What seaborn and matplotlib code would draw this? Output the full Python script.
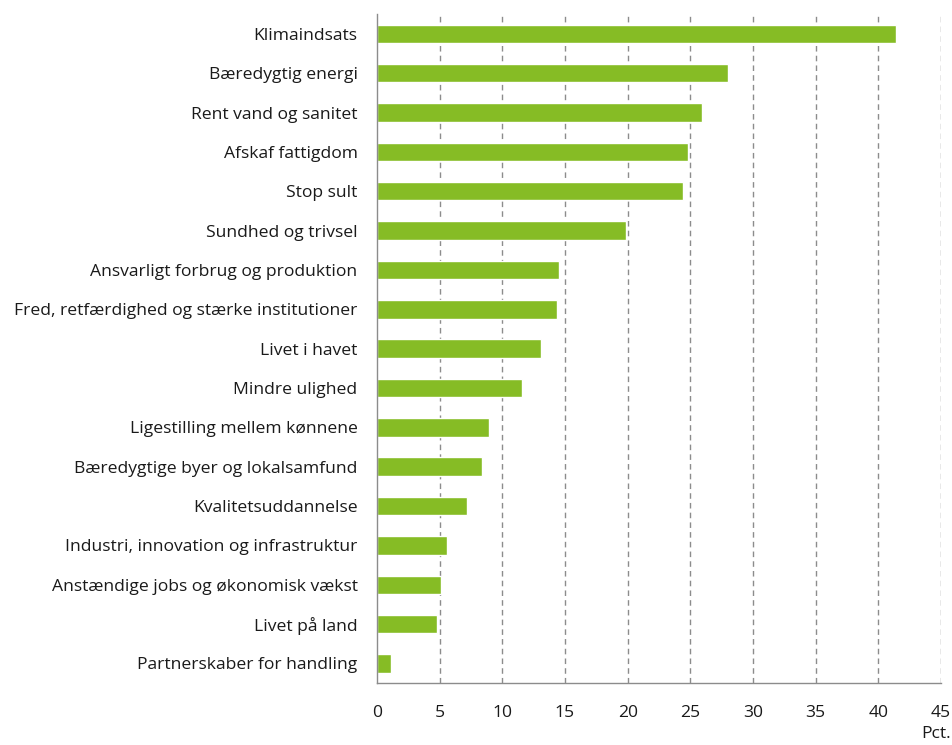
import matplotlib
matplotlib.use("Agg")
import matplotlib.pyplot as plt
import seaborn as sns
import pandas as pd
import numpy as np

goals = [
    "Klimaindsats",
    "Bæredygtig energi",
    "Rent vand og sanitet",
    "Afskaf fattigdom",
    "Stop sult",
    "Sundhed og trivsel",
    "Ansvarligt forbrug og produktion",
    "Fred, retfærdighed og stærke institutioner",
    "Livet i havet",
    "Mindre ulighed",
    "Ligestilling mellem kønnene",
    "Bæredygtige byer og lokalsamfund",
    "Kvalitetsuddannelse",
    "Industri, innovation og infrastruktur",
    "Anstændige jobs og økonomisk vækst",
    "Livet på land",
    "Partnerskaber for handling",
]
pct = [41.4, 28.0, 25.9, 24.8, 24.4, 19.9, 14.5, 14.4, 13.1, 11.6,
       8.9, 8.4, 7.2, 5.6, 5.1, 4.8, 1.1]
x_ticks = [0, 5, 10, 15, 20, 25, 30, 35, 40, 45]

df = pd.DataFrame({"goal": goals, "pct": pct})

sns.set_theme(style="white")
plt.rcParams["font.family"] = ["Open Sans", "DejaVu Sans"]

fig = plt.figure(figsize=(9.52, 7.45), dpi=100)
ax = fig.add_axes([0.396, 0.083, 0.5925, 0.898])

sns.barplot(data=df, x="pct", y="goal", orient="h", color="#86BC25",
            saturation=1, width=0.47, ax=ax)

ax.set_xlim(0, 45)
ax.set_ylim(len(goals) - 0.5, -0.5)
ax.set_xticks(x_ticks)
ax.set_xticklabels([str(t) for t in x_ticks])
ax.set_xlabel("")
ax.set_ylabel("")

# dashed vertical gridlines
for t in x_ticks[1:]:
    ax.axvline(t, color="#8c8c8c", lw=1.0, ls=(0, (4, 3)), zorder=0)

for side in ["top", "right"]:
    ax.spines[side].set_visible(False)
for side in ["left", "bottom"]:
    ax.spines[side].set_color("#8c8c8c")
    ax.spines[side].set_linewidth(1.0)

# category separators as minor ticks on the left axis
ax.set_yticks(np.arange(-0.5, len(goals), 1.0), minor=True)
ax.tick_params(axis="y", which="major", length=0, pad=14,
               labelsize=12.6, labelcolor="#1a1a1a")
ax.tick_params(axis="y", which="minor", length=5, width=1.0,
               color="#8c8c8c", direction="out")
ax.tick_params(axis="x", which="major", length=5, width=1.0,
               color="#8c8c8c", direction="out", pad=11,
               labelsize=12.6, labelcolor="#1a1a1a")

fig.text(0.999, 0.004, "Pct.", ha="right", va="bottom",
         fontsize=12.6, color="#1a1a1a")

fig.savefig("out.png", dpi=100)
